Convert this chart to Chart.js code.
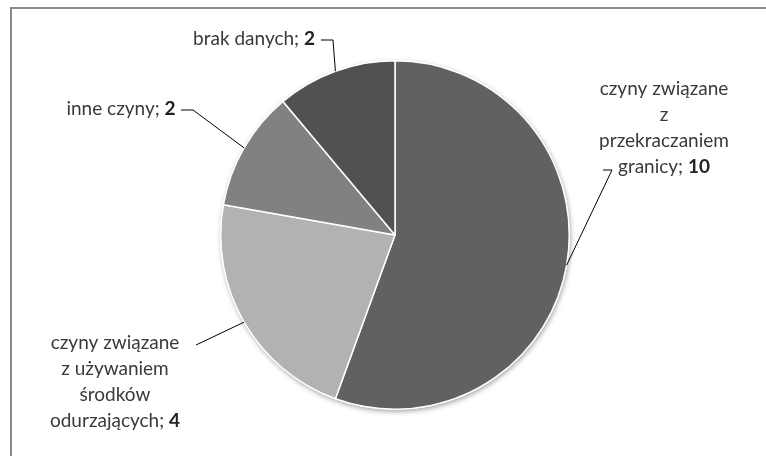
<!DOCTYPE html>
<html><head><meta charset="utf-8">
<script src="https://cdn.jsdelivr.net/npm/chart.js@4.4.0/dist/chart.umd.min.js"></script>
<style>html,body{margin:0;padding:0;background:#fff;}#wrap{position:relative;width:766px;height:456px;}</style>
</head><body><div id="wrap"><canvas id="c" width="766" height="456"></canvas></div>
<script>
const categories = ["czyny związane z przekraczaniem granicy", "czyny związane z używaniem środków odurzających", "inne czyny", "brak danych"];
const values = [10, 4, 2, 2];
const labelLines = [
  ["czyny związane", "z", "przekraczaniem", "granicy; "],
  ["czyny związane", "z używaniem", "środków", "odurzających; "],
  ["inne czyny; "],
  ["brak danych; "]
];
const colors = ["#616161", "#b2b2b2", "#818181", "#515151"];

const FONT = '"Lato", "Open Sans", sans-serif';
const SIZE = 19;
// layout: label text centre x, first baseline y, elbow points
const labelLayout = [
  {cx: 664, y: 95, elbow: [[612,170],[603,170]]},
  {cx: 115, y: 349, elbow: [[196,345]]},
  {cx: 121, y: 115, elbow: [[193,110],[181,110]]},
  {cx: 254, y: 45, elbow: [[333,40],[321,40]]}
];
const LH = 26;

const framePlugin = {
  id: 'frame',
  beforeDraw(chart) {
    const ctx = chart.ctx;
    ctx.save();
    ctx.fillStyle = '#fff';
    ctx.fillRect(0,0,chart.width,chart.height);
    ctx.strokeStyle = '#8a8a8a';
    ctx.lineWidth = 2;
    ctx.beginPath();
    ctx.moveTo(11, 456); ctx.lineTo(11, 8); ctx.lineTo(766, 8);
    ctx.stroke();
    ctx.restore();
  }
};
const shadowPlugin = {
  id: 'shadow',
  beforeDatasetsDraw(chart) {
    const ctx = chart.ctx;
    const a = chart.getDatasetMeta(0).data[0];
    ctx.save();
    ctx.shadowColor = 'rgba(0,0,0,0.35)';
    ctx.shadowBlur = 5;
    ctx.shadowOffsetX = 1;
    ctx.shadowOffsetY = 2;
    ctx.fillStyle = '#fff';
    ctx.beginPath();
    ctx.arc(a.x, a.y, a.outerRadius + 0.5, 0, Math.PI*2);
    ctx.fill();
    ctx.restore();
  }
};
const labelPlugin = {
  id: 'pieLabels',
  afterDatasetsDraw(chart) {
    const ctx = chart.ctx;
    const meta = chart.getDatasetMeta(0);
    ctx.save();
    meta.data.forEach((arc, i) => {
      const mid = (arc.startAngle + arc.endAngle) / 2;
      const px = arc.x + Math.cos(mid) * arc.outerRadius;
      const py = arc.y + Math.sin(mid) * arc.outerRadius;
      const L = labelLayout[i];
      ctx.strokeStyle = '#000';
      ctx.lineWidth = 1;
      ctx.beginPath();
      ctx.moveTo(px, py);
      L.elbow.forEach(p => ctx.lineTo(p[0], p[1]));
      ctx.stroke();
      const lines = labelLines[i];
      ctx.textBaseline = 'alphabetic';
      ctx.textAlign = 'left';
      lines.forEach((ln, k) => {
        const y = L.y + k * LH;
        const last = k === lines.length - 1;
        ctx.font = SIZE + 'px ' + FONT;
        const w1 = ctx.measureText(ln).width;
        let w2 = 0; const num = String(values[i]);
        if (last) { ctx.font = 'bold ' + SIZE + 'px ' + FONT; w2 = ctx.measureText(num).width; }
        const x0 = L.cx - (w1 + w2) / 2;
        ctx.fillStyle = '#3a3a3a';
        ctx.font = SIZE + 'px ' + FONT;
        ctx.fillText(ln, x0, y);
        if (last) { ctx.font = 'bold ' + SIZE + 'px ' + FONT; ctx.fillStyle = '#222'; ctx.fillText(num, x0 + w1, y); }
      });
    });
    ctx.restore();
  }
};

new Chart(document.getElementById('c'), {
  type: 'pie',
  data: { labels: categories, datasets: [{ data: values, backgroundColor: colors, borderColor: '#ffffff', borderWidth: 1.5 }] },
  options: {
    responsive: false, animation: false,
    layout: { padding: { left: 220, right: 196, top: 60, bottom: 46 } },
    plugins: { legend: { display: false }, tooltip: { enabled: false } }
  },
  plugins: [framePlugin, shadowPlugin, labelPlugin]
});
</script></body></html>
